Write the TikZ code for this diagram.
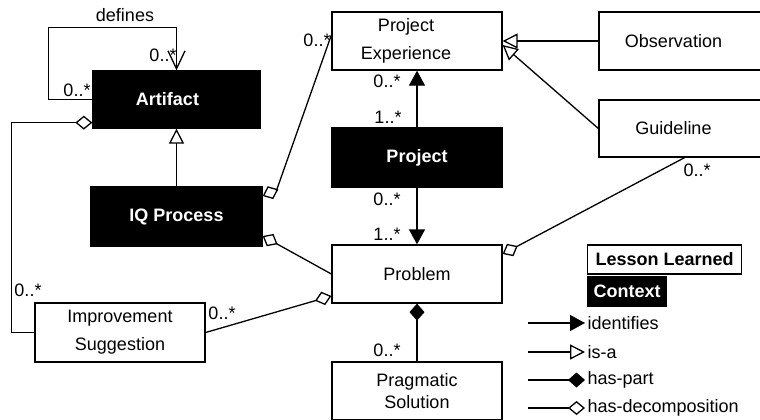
\documentclass[tikz,border=0pt]{standalone}
\usepackage{fontspec}
\setmainfont{Liberation Sans}
\usepackage{tikz}
\usetikzlibrary{arrows.meta}

\newcommand{\diagfont}{\fontsize{18}{22}\selectfont}

\tikzset{
  ftri/.tip={Triangle[length=15pt,width=16pt]},
  otri/.tip={Triangle[open,length=15pt,width=15pt]},
  fdiam/.tip={Diamond[length=17pt,width=15pt]},
  odiam/.tip={Diamond[open,length=17pt,width=14pt]},
  vbarb/.tip={Straight Barb[length=18pt,width=17pt]},
  cls/.style={draw,minimum width=170pt,minimum height=58pt,align=center},
  ctx/.style={cls,fill=black,text=white,font=\diagfont\bfseries},
  mult/.style={inner sep=0pt},
  identifies/.style={-ftri},
  isa/.style={-otri},
  haspart/.style={fdiam-},
  hasdec/.style={odiam-},
}

\begin{document}
\begin{tikzpicture}[x=1pt,y=-1pt,line width=1.3pt,font=\diagfont]
\useasboundingbox (0,0) rectangle (760,420);
% classes
\node[ctx,minimum width=167pt,minimum height=57pt] (art) at (176.5,99.5) {Artifact\hspace*{18pt}};
\node[ctx,minimum width=171pt,minimum height=59pt] (iq) at (176.5,216.5) {IQ Process};
\node[cls] (pe) at (417,41) {Project\hspace*{22pt}\\[6pt]Experience\hspace*{22pt}};
\node[ctx,minimum height=59pt] (pj) at (417,157.5) {Project};
\node[cls] (pb) at (417,274) {Problem};
\node[cls] (ps) at (417,391) {Pragmatic\\Solution};
\node[cls,minimum width=171pt] (obs) at (684.5,41) {Observation\hspace*{22pt}};
\node[cls,minimum width=171pt,minimum height=57pt] (gl) at (684.5,128.5) {Guideline\hspace*{22pt}};
\node[cls,minimum height=59pt] (imp) at (120,332.5) {Improvement\\[6pt]Suggestion};

% defines loop
\draw[-vbarb] (art.west) -- ++(-44,0) -- ++(0,-72) -| (art.north);
\node (deflbl) at (125,15) {defines};
\node[mult] (mdef1) at (163,55) {0..*};
\node[mult] (mdef2) at (77,90) {0..*};

% decompositions
\draw[hasdec] ([yshift=6pt]art.south west) -- ++(-81,0) |- (imp.west);
\node[mult] (mimp1) at (28,290) {0..*};
\draw[hasdec] ([yshift=20.5pt]iq.east) -- ++(14,-6) -- ([yshift=6pt]pe.west);
\node[mult] (mpe1) at (317,40) {0..*};
\draw[hasdec] ([yshift=-19.5pt]iq.east) -- (pb.west);
\draw[hasdec] ([yshift=20pt]pb.east) -- (gl.south);
\node[mult] (mgl) at (697,170) {0..*};
\draw[hasdec] ([yshift=-22pt]pb.west) -- (imp.east);
\node[mult] (mimp2) at (222,313) {0..*};

% is-a
\draw[isa] (iq.north) -- (art.south);
\draw[isa] (obs.west) -- (pe.east);
\draw[isa] (gl.west) -- ([yshift=-4pt]pe.east);

% identifies
\draw[identifies] (pj.north) -- (pe.south);
\node[mult] (mpe2) at (387,81) {0..*};
\node[mult] (mpj1) at (388,117) {1..*};
\draw[identifies] (pj.south) -- (pb.north);
\node[mult] (mpj2) at (387,199) {0..*};
\node[mult] (mpb1) at (387,234) {1..*};

% has-part
\draw[haspart] (pb.south) -- (ps.north);
\node[mult] (mps) at (387,350) {0..*};

% legend
\node[cls,minimum width=154pt,minimum height=29pt,font=\diagfont\bfseries,anchor=west] (lgll) at (587,259.5) {Lesson Learned};
\node[ctx,minimum width=79pt,minimum height=29pt,anchor=west] (lgctx) at (587,291.5) {Context};
\node[anchor=west,inner xsep=2pt] (lgid) at (585,323) {identifies};
\coordinate (lgidL) at (528,323);
\draw[identifies] (lgidL) -- (lgid.west);
\node[anchor=west,inner xsep=2pt] (lgisa) at (585,352) {is-a};
\coordinate (lgisaL) at (528,352);
\draw[isa] (lgisaL) -- (lgisa.west);
\node[anchor=west,inner xsep=2pt] (lghp) at (585,380) {has-part};
\coordinate (lghpL) at (528,380);
\draw[haspart] (lghp.west) -- (lghpL);
\node[anchor=west,inner xsep=2pt] (lghd) at (585,408) {has-decomposition};
\coordinate (lghdL) at (528,408);
\draw[hasdec] (lghd.west) -- (lghdL);
\end{tikzpicture}
\end{document}
